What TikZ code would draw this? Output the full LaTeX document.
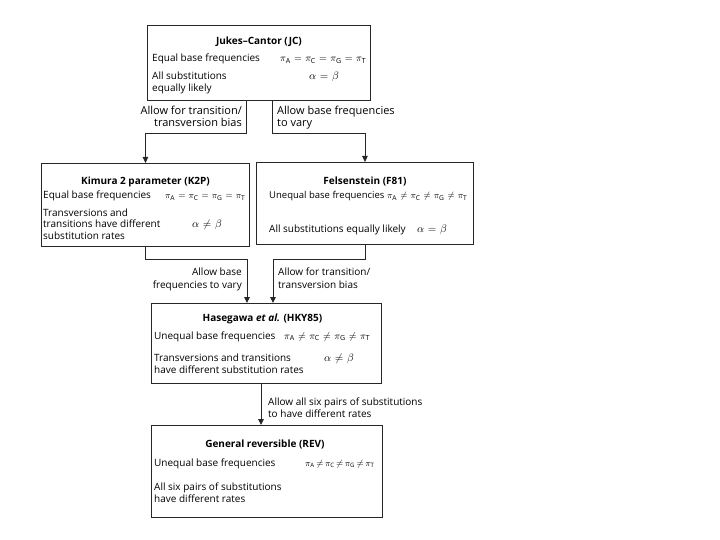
\documentclass[tikz,border=0pt]{standalone}
\usepackage{fontspec}
\setmainfont{Open Sans}
\usetikzlibrary{arrows.meta}
\thickmuskip=6mu
\newcommand{\ttlbox}[4]{\parbox[t][#1][t]{#2}{\centering\rule{0pt}{#3}\bfseries #4}}
\begin{document}
\begin{tikzpicture}[x=1pt,y=-1pt,
  box/.style={draw=black!85, line width=0.9pt, inner sep=0pt, anchor=north west, font=\fontsize{10}{12}\selectfont, text=black},
  txt/.style={inner sep=0pt, anchor=base west, font=\fontsize{10}{12}\selectfont, text=black},
  txts/.style={txt, font=\fontsize{9.5}{11}\selectfont},
  lbl/.style={txt, font=\fontsize{11}{13}\selectfont},
  lblr/.style={lbl, anchor=base east},
  lblsr/.style={txt, anchor=base east},
  frm/.style={txt, font=\fontsize{11}{13}\selectfont},
  frmx/.style={txt, font=\fontsize{9}{11}\selectfont},
  conn/.style={draw=black!85, line width=0.9pt},
  arr/.style={conn, -{Triangle[width=5.5pt,length=6pt]}}]
\useasboundingbox (0,0) rectangle (720,540);
% boxes with their titles
\node[box] (jc) at (147,25) {\ttlbox{75pt}{223pt}{19pt}{Jukes–Cantor (JC)}};
\node[box] (k2p) at (41,163) {\ttlbox{83pt}{208pt}{21pt}{Kimura 2 parameter (K2P)}};
\node[box] (f81) at (256,162) {\ttlbox{82pt}{217pt}{22pt}{Felsenstein (F81)}};
\node[box] (hky) at (151,303) {\ttlbox{80pt}{230pt}{18pt}{\hspace*{-8pt}Hasegawa \textit{et al.} (HKY85)}};
\node[box] (rev) at (151,425) {\ttlbox{92pt}{231pt}{22pt}{\hspace*{-4pt}General reversible (REV)}};
% JC text
\node[txt] (jc1) at (152,62) {Equal base frequencies};
\node[txt] (jc1f) at (280,62) {$\pi_{\mathrm{A}}=\pi_{\mathrm{C}}=\pi_{\mathrm{G}}=\pi_{\mathrm{T}}$};
\node[txt] (jc2) at (152,80) {All substitutions};
\node[txt] (jc3) at (152,92) {equally likely};
\node[frm] (jc2f) at (309,80) {$\alpha=\beta$};
% K2P text
\node[txt] (k1) at (43,199) {Equal base frequencies};
\node[txts] (k1f) at (165,199) {$\pi_{\mathrm{A}}=\pi_{\mathrm{C}}=\pi_{\mathrm{G}}=\pi_{\mathrm{T}}$};
\node[txt] (k2) at (43,216) {Transversions and};
\node[txt] (k3) at (43,228) {transitions have different};
\node[txt] (k4) at (43,240) {substitution rates};
\node[frm] (k3f) at (192,228) {$\alpha\neq\beta$};
% F81 text
\node[txts] (f1) at (269,199) {Unequal base frequencies};
\node[txts] (f1f) at (387,199) {$\pi_{\mathrm{A}}\neq\pi_{\mathrm{C}}\neq\pi_{\mathrm{G}}\neq\pi_{\mathrm{T}}$};
\node[txt] (f2) at (269,233) {All substitutions equally likely};
\node[frm] (f2f) at (417,233) {$\alpha=\beta$};
% HKY text
\node[txt] (h1) at (154,339) {Unequal base frequencies};
\node[txt] (h1f) at (284,339) {$\pi_{\mathrm{A}}\neq\pi_{\mathrm{C}}\neq\pi_{\mathrm{G}}\neq\pi_{\mathrm{T}}$};
\node[txt] (h2) at (154,361) {Transversions and transitions};
\node[txt] (h3) at (154,373) {have different substitution rates};
\node[frm] (h2f) at (324,361) {$\alpha\neq\beta$};
% REV text
\node[txt] (r1) at (154,466) {Unequal base frequencies};
\node[frmx] (r1f) at (305,466) {$\thickmuskip=3mu \pi_{\mathrm{A}}\neq\pi_{\mathrm{C}}\neq\pi_{\mathrm{G}}\neq\pi_{\mathrm{T}}$};
\node[txt] (r2) at (154,490) {All six pairs of substitutions};
\node[txt] (r3) at (154,502) {have different rates};
% connector labels
\node[lblr] (l1a) at (242,115) {Allow for transition/};
\node[lblr] (l1b) at (242,127) {transversion bias};
\node[lbl] (l2a) at (277,115) {Allow base frequencies};
\node[lbl] (l2b) at (277,127) {to vary};
\node[lblsr] (l3a) at (242,275) {Allow base};
\node[lblsr] (l3b) at (242,288) {frequencies to vary};
\node[txt] (l4a) at (278,275) {Allow for transition/};
\node[txt] (l4b) at (278,288) {transversion bias};
\node[txt] (l5a) at (268,405) {Allow all six pairs of substitutions};
\node[txt] (l5b) at (268,417) {to have different rates};
% connectors
\coordinate (c1) at (246,133);
\coordinate (c2) at (272,133);
\draw[arr] (jc.south -| c1) |- (c1 -| k2p.north) -- (k2p.north);
\draw[arr] (jc.south -| c2) |- (c2 -| f81.north) -- (f81.north);
\coordinate (c3) at (247,259);
\coordinate (c4) at (273,259);
\draw[arr] (k2p.south) |- (c3) -- (c3 |- hky.north);
\draw[arr] (f81.south) |- (c4) -- (c4 |- hky.north);
\coordinate (c5) at (261,0);
\draw[arr] (c5 |- hky.south) -- (c5 |- rev.north);
\end{tikzpicture}
\end{document}
